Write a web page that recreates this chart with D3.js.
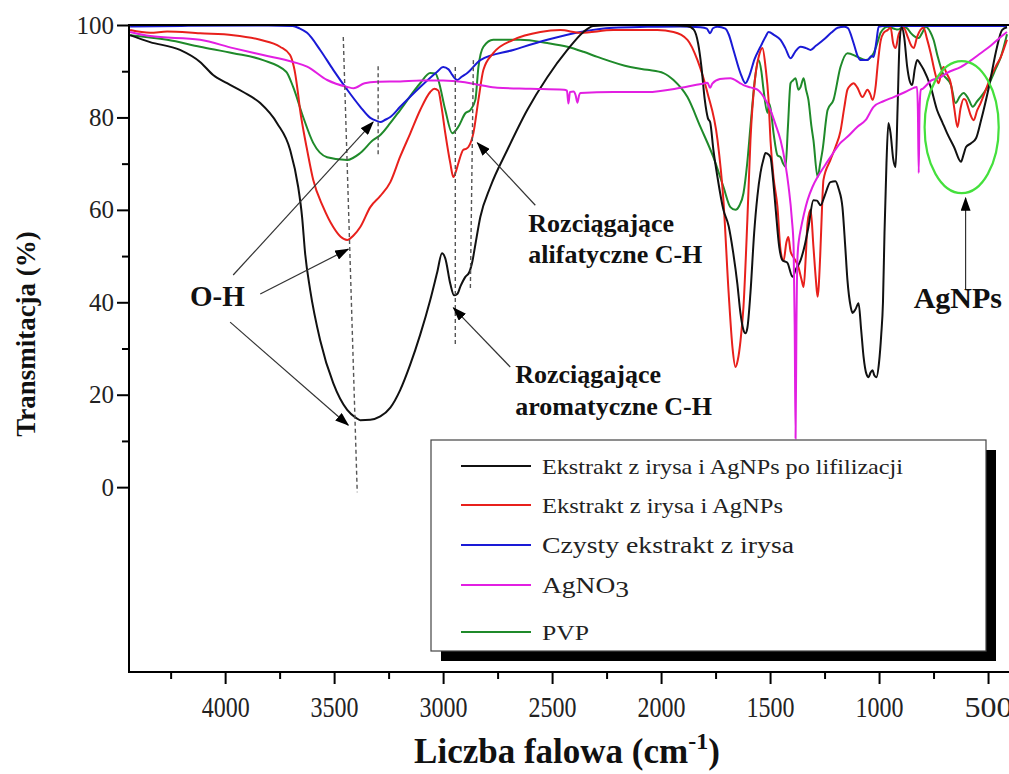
<!DOCTYPE html>
<html>
<head>
<meta charset="utf-8">
<script src="https://cdn.jsdelivr.net/npm/d3@7"></script>
<style>
  body { margin: 0; background: #fff; }
  svg { display: block; }
</style>
</head>
<body>
<svg id="chart" width="1009" height="774"></svg>
<script>
// FTIR spectra: wavenumber (cm-1) vs transmittance (%)
const wnMajor = [4000, 3500, 3000, 2500, 2000, 1500, 1000, 500];
const wnMinor = [4250, 3750, 3250, 2750, 2250, 1750, 1250, 750];
const tMajor = [0, 20, 40, 60, 80, 100];
const tMinor = [10, 30, 50, 70, 90];

const seriesNames = [
  "Ekstrakt z irysa i AgNPs po lifilizacji",
  "Ekstrakt z irysa i AgNPs",
  "Czysty ekstrakt z irysa",
  "AgNO3",
  "PVP"
];
const seriesColors = ["#111111", "#e8201c", "#1a1ad6", "#e21fe2", "#1f8a2a"];

const lyophilized = [
  [4436,97.8],[4344,96.3],[4207,94.6],[4115,92.0],[4055,89.2],[3991,87.4],[3917,85.5],[3839,83.1],[3761,78.7],[3702,73.0],[3665,65.0],[3647,58.5],[3633,50.6],[3610,42.7],[3564,31.8],[3504,22.5],[3440,16.7],[3400,15.0],[3380,14.5],[3334,14.6],[3288,15.3],[3242,17.2],[3197,21.0],[3151,26.5],[3105,33.0],[3059,40.5],[3027,46.5],[3005,50.6],[2990,49.5],[2967,44.0],[2950,41.5],[2935,41.8],[2920,43.5],[2898,45.5],[2880,46.5],[2865,49.0],[2852,52.5],[2829,58.5],[2783,65.0],[2705,73.0],[2614,81.6],[2522,88.7],[2430,94.6],[2356,98.5],[2310,99.8],[2200,100],[2000,100],[1880,99.8],[1850,99.0],[1830,96.0],[1815,91.0],[1800,84.0],[1785,79.8],[1775,79.0],[1760,73.0],[1741,67.0],[1714,60.0],[1690,56.5],[1670,51.0],[1650,44.0],[1636,37.7],[1622,34.0],[1613,33.3],[1604,34.5],[1590,42.0],[1573,55.0],[1558,63.0],[1544,68.0],[1530,71.0],[1521,72.3],[1507,72.0],[1498,71.4],[1485,66.0],[1475,60.6],[1458,52.0],[1443,49.1],[1430,48.8],[1420,48.5],[1397,45.5],[1383,47.0],[1360,49.1],[1340,52.5],[1324,56.3],[1301,62.1],[1285,62.0],[1268,61.0],[1250,63.0],[1223,66.0],[1200,66.2],[1185,64.5],[1168,60.6],[1155,52.0],[1145,44.8],[1130,39.0],[1122,37.7],[1108,38.5],[1094,39.8],[1082,34.0],[1071,28.2],[1058,24.5],[1048,23.8],[1039,24.8],[1030,25.3],[1022,24.2],[1012,23.8],[1000,27.0],[990,33.0],[982,40.0],[975,55.0],[966,70.0],[957,78.8],[947,76.5],[935,71.0],[924,69.3],[915,82.0],[906,96.0],[896,99.5],[885,97.5],[871,91.0],[860,88.0],[848,87.0],[836,90.5],[825,92.4],[810,91.5],[795,90.3],[763,86.6],[734,81.6],[710,79.0],[688,76.6],[656,73.6],[624,70.4],[612,72.0],[601,73.6],[578,74.4],[555,75.5],[532,79.4],[496,86.6],[459,95.2],[436,98.9],[413,99.5]
];

const extractAgNPs = [
  [4436,98.9],[4344,98.3],[4266,98.6],[4115,98.2],[3963,97.8],[3839,96.8],[3748,95.3],[3702,93.5],[3685,91.0],[3679,89.6],[3665,85.0],[3656,81.6],[3640,77.0],[3624,73.0],[3596,66.5],[3550,60.6],[3504,56.3],[3470,54.2],[3440,53.5],[3410,54.5],[3380,56.3],[3334,60.6],[3288,63.0],[3242,66.0],[3197,71.5],[3151,76.5],[3105,81.6],[3059,85.5],[3040,86.2],[3022,85.8],[3008,82.5],[2990,76.6],[2967,70.1],[2953,67.1],[2940,68.5],[2930,70.1],[2907,73.0],[2895,73.2],[2884,73.6],[2861,76.6],[2838,83.8],[2815,90.3],[2770,93.9],[2678,96.8],[2554,98.5],[2462,98.9],[2370,98.3],[2219,98.9],[2017,98.9],[1943,98.5],[1879,96.8],[1833,92.4],[1787,85.3],[1741,75.1],[1714,62.1],[1690,42.0],[1672,30.0],[1659,26.0],[1648,27.5],[1636,31.5],[1622,39.0],[1604,58.0],[1590,75.0],[1570,88.0],[1550,93.5],[1535,95.0],[1521,91.0],[1507,83.8],[1498,75.0],[1484,67.0],[1466,60.6],[1452,51.3],[1438,49.0],[1425,53.0],[1416,54.1],[1406,51.0],[1393,49.8],[1370,47.6],[1356,45.0],[1346,43.3],[1336,50.0],[1328,57.2],[1314,60.0],[1301,52.0],[1290,45.0],[1282,41.2],[1270,50.0],[1262,60.0],[1255,66.5],[1223,70.8],[1200,73.6],[1177,77.0],[1160,82.0],[1145,86.0],[1130,87.0],[1117,87.4],[1100,86.5],[1076,84.4],[1053,86.0],[1040,85.0],[1030,83.8],[1015,87.0],[1007,91.0],[993,96.5],[979,98.3],[961,98.9],[947,99.4],[935,96.0],[924,95.0],[910,98.0],[887,99.4],[869,97.5],[852,95.5],[841,95.0],[825,97.5],[796,99.4],[780,97.0],[763,93.9],[745,90.0],[727,87.4],[715,89.5],[704,90.9],[690,89.5],[671,87.4],[655,82.0],[640,77.9],[626,82.0],[612,84.0],[603,83.8],[590,82.0],[580,80.5],[566,79.4],[550,81.5],[534,83.1],[510,86.0],[488,88.7],[465,91.0],[442,93.0],[413,96.8]
];

const pureExtract = [
  [4436,99.7],[4200,99.8],[3800,99.9],[3690,99.8],[3660,99.3],[3624,98.3],[3564,94.6],[3504,90.3],[3440,86.0],[3380,82.3],[3334,79.9],[3302,79.2],[3288,79.0],[3265,79.5],[3242,80.1],[3197,82.3],[3105,86.6],[3027,89.9],[3000,90.9],[2975,90.4],[2958,89.2],[2935,88.1],[2915,88.8],[2889,89.6],[2829,92.4],[2678,94.6],[2522,96.8],[2370,98.5],[2219,99.4],[2063,99.6],[1911,99.7],[1819,99.5],[1790,99.2],[1775,98.2],[1762,99.3],[1741,99.6],[1705,99.2],[1690,98.0],[1668,94.6],[1636,89.6],[1613,87.4],[1595,89.0],[1572,92.5],[1544,95.3],[1520,97.5],[1507,98.5],[1480,97.8],[1452,96.8],[1430,95.0],[1406,92.8],[1385,94.2],[1360,95.3],[1335,95.0],[1314,94.6],[1290,95.5],[1255,96.8],[1220,98.3],[1190,99.4],[1160,99.6],[1144,99.4],[1117,96.1],[1100,93.5],[1085,92.4],[1053,92.4],[1035,93.3],[1025,93.1],[1012,96.5],[1002,99.6],[980,99.8],[800,99.8],[600,99.8],[413,99.8]
];

const silverNitrate = [
  [4436,98.5],[4344,97.6],[4115,96.8],[3963,95.0],[3826,93.5],[3688,92.0],[3624,91.0],[3532,88.1],[3440,86.6],[3410,86.3],[3360,87.4],[3302,87.7],[3197,87.8],[3100,88.0],[3000,88.0],[2900,87.6],[2829,87.0],[2751,86.4],[2600,86.2],[2445,86.0],[2432,85.8],[2425,83.0],[2418,85.5],[2402,85.6],[2392,84.8],[2384,83.2],[2376,84.8],[2370,85.3],[2219,85.5],[2063,85.5],[1911,86.4],[1800,87.4],[1787,87.5],[1775,86.4],[1765,87.3],[1730,88.3],[1682,88.5],[1640,87.5],[1622,87.0],[1590,86.5],[1558,86.0],[1530,84.5],[1498,81.6],[1475,78.5],[1452,75.1],[1430,70.0],[1415,65.0],[1400,58.0],[1392,52.0],[1387,35.0],[1383,10.5],[1379,35.0],[1374,50.0],[1366,54.0],[1360,55.6],[1345,59.0],[1328,62.1],[1305,65.0],[1282,67.1],[1250,69.5],[1223,71.4],[1177,74.5],[1145,75.8],[1099,78.0],[1062,79.4],[1025,82.3],[980,83.5],[933,84.4],[880,85.5],[841,86.4],[826,86.6],[822,82.0],[818,68.0],[814,82.0],[808,86.0],[800,86.2],[760,88.0],[717,88.7],[690,89.6],[626,90.9],[580,92.3],[534,93.9],[488,95.5],[442,97.4],[413,98.5]
];

const pvp = [
  [4436,97.8],[4266,96.8],[4115,95.3],[3963,93.9],[3826,92.4],[3720,89.9],[3688,86.6],[3642,80.1],[3596,74.5],[3532,71.4],[3440,70.8],[3380,72.3],[3321,75.1],[3288,76.2],[3242,78.8],[3197,81.6],[3105,87.4],[3059,89.6],[3035,89.5],[3022,88.1],[2990,81.6],[2958,76.6],[2930,78.0],[2898,80.9],[2875,81.6],[2852,83.8],[2838,90.9],[2815,95.3],[2770,96.8],[2646,96.8],[2522,96.1],[2430,95.3],[2356,94.2],[2292,93.1],[2141,90.9],[2063,90.3],[1989,89.6],[1943,88.1],[1879,84.4],[1819,77.9],[1760,71.4],[1714,65.0],[1682,60.6],[1659,60.0],[1640,61.0],[1622,63.6],[1605,70.0],[1590,78.0],[1570,88.0],[1553,92.4],[1540,90.0],[1530,86.0],[1512,81.0],[1505,83.0],[1498,82.0],[1484,76.6],[1466,71.8],[1452,71.4],[1440,70.0],[1429,69.3],[1418,78.0],[1406,87.4],[1395,88.0],[1383,88.5],[1370,86.0],[1360,86.6],[1346,88.5],[1335,86.0],[1324,83.8],[1310,78.0],[1301,75.1],[1282,67.1],[1270,70.0],[1259,73.0],[1236,81.6],[1209,83.8],[1177,90.9],[1145,93.9],[1099,93.1],[1062,92.4],[1025,93.9],[1002,97.0],[993,98.3],[961,99.6],[930,99.2],[915,99.0],[887,99.6],[869,99.2],[855,98.3],[836,97.5],[818,97.2],[800,98.5],[786,99.6],[765,98.5],[750,96.8],[730,93.0],[708,89.6],[670,87.0],[649,83.1],[630,84.5],[612,85.3],[590,84.0],[570,82.3],[550,83.5],[534,84.4],[510,86.0],[488,88.0],[465,90.5],[442,93.0],[413,98.0]
];

// Band annotations (data units)
const guideLines = [
  [[3458, 97.4], [3394, -1.1]],
  [[3298, 91.1], [3298, 71.4]],
  [[2944, 90.9], [2944, 30.3]],
  [[2861, 92.4], [2875, 42.7]]
];
const ohArrows = [
  [[3963, 45.9], [3321, 79.0]],
  [[3839, 41.8], [3435, 51.5]],
  [[3977, 35.7], [3435, 13.4]]
];
const chArrows = [
  [[2577, 61.0], [2843, 74.5]],
  [[2692, 26.0], [2953, 38.8]]
];
const agArrow = [[603, 42.7], [603, 62.6]];
const agCircle = { wn: 621, t: 77.9, rwn: 170, rt: 14.3 };

const svg = d3.select("#chart");
const x = d3.scaleLinear().domain([4441, 413]).range([129, 1007]);
const y = d3.scaleLinear().domain([-40, 100]).range([672, 25]);
const serif = "'Liberation Serif', 'Times New Roman', serif";

const defs = svg.append("defs");
defs.append("clipPath").attr("id", "plotClip")
  .append("rect").attr("x", 129).attr("y", 22).attr("width", 880).attr("height", 650);
defs.append("marker").attr("id", "head")
  .attr("markerUnits", "userSpaceOnUse")
  .attr("viewBox", "0 0 14 10").attr("markerWidth", 14).attr("markerHeight", 10)
  .attr("refX", 13).attr("refY", 5).attr("orient", "auto")
  .append("path").attr("d", "M0,0 L14,5 L0,10 Z").attr("fill", "#000");

// spectra
const line = d3.line().x(d => x(d[0])).y(d => y(d[1])).curve(d3.curveMonotoneX);
const spectra = [pvp, pureExtract, extractAgNPs, lyophilized, silverNitrate];
const spectraColor = [seriesColors[4], seriesColors[2], seriesColors[1], seriesColors[0], seriesColors[3]];
const gLines = svg.append("g").attr("clip-path", "url(#plotClip)");
spectra.forEach((s, i) => {
  gLines.append("path").datum(s).attr("d", line)
    .attr("fill", "none").attr("stroke", spectraColor[i])
    .attr("stroke-width", 2).attr("stroke-linejoin", "round");
});

// dashed band guides
svg.append("g").selectAll("line").data(guideLines).join("line")
  .attr("x1", d => x(d[0][0])).attr("y1", d => y(d[0][1]))
  .attr("x2", d => x(d[1][0])).attr("y2", d => y(d[1][1]))
  .attr("stroke", "#555").attr("stroke-width", 1.4).attr("stroke-dasharray", "4,3");

// arrows
const allArrows = ohArrows.concat(chArrows, [agArrow]);
svg.append("g").selectAll("line").data(allArrows).join("line")
  .attr("x1", d => x(d[0][0])).attr("y1", d => y(d[0][1]))
  .attr("x2", d => x(d[1][0])).attr("y2", d => y(d[1][1]))
  .attr("stroke", "#333").attr("stroke-width", 1.2).attr("marker-end", "url(#head)");

// AgNPs ellipse
svg.append("ellipse")
  .attr("cx", x(agCircle.wn)).attr("cy", y(agCircle.t))
  .attr("rx", x(agCircle.wn - agCircle.rwn) - x(agCircle.wn))
  .attr("ry", y(agCircle.t - agCircle.rt) - y(agCircle.t))
  .attr("fill", "none").attr("stroke", "#44e03c").attr("stroke-width", 2.2);

// annotation labels
const labels = [
  { text: "O-H", wn: 4161, t: 39.2, size: 29 },
  { text: "Rozciągające", wn: 2609, t: 55.2, size: 26 },
  { text: "alifatyczne C-H", wn: 2609, t: 48.5, size: 26 },
  { text: "Rozciągające", wn: 2669, t: 22.5, size: 26 },
  { text: "aromatyczne C-H", wn: 2669, t: 15.6, size: 26 },
  { text: "AgNPs", wn: 841, t: 38.8, size: 30 }
];
svg.append("g").selectAll("text").data(labels).join("text")
  .attr("x", d => x(d.wn)).attr("y", d => y(d.t))
  .attr("font-family", serif).attr("font-weight", "bold")
  .attr("font-size", d => d.size).attr("fill", "#111")
  .text(d => d.text);

// axes
const gx = svg.append("g").attr("transform", "translate(0,672)");
gx.call(d3.axisBottom(x).tickValues(wnMajor).tickSize(12).tickPadding(12)
  .tickFormat(d3.format("d")).tickSizeOuter(0));
const gxm = svg.append("g").attr("transform", "translate(0,672)");
gxm.call(d3.axisBottom(x).tickValues(wnMinor).tickSize(7).tickFormat("").tickSizeOuter(0));
const gy = svg.append("g").attr("transform", "translate(129,0)");
gy.call(d3.axisLeft(y).tickValues(tMajor).tickSize(12).tickPadding(3)
  .tickFormat(d3.format("d")).tickSizeOuter(0));
const gym = svg.append("g").attr("transform", "translate(129,0)");
gym.call(d3.axisLeft(y).tickValues(tMinor).tickSize(7).tickFormat("").tickSizeOuter(0));
[gx, gxm, gy, gym].forEach(g => {
  g.select(".domain").remove();
  g.selectAll(".tick line").attr("stroke", "#000").attr("stroke-width", 2);
});
gx.selectAll("text").attr("font-family", serif).attr("font-size", 29)
  .attr("fill", "#222").attr("textLength", 48).attr("lengthAdjust", "spacingAndGlyphs");
gy.selectAll("text").attr("font-family", serif).attr("font-size", 25).attr("fill", "#222");

// frame
svg.append("path")
  .attr("d", "M1009,25 H129 V672 H1009")
  .attr("fill", "none").attr("stroke", "#000").attr("stroke-width", 2);

// axis titles
const xt = svg.append("text").attr("x", 567).attr("y", 763).attr("text-anchor", "middle")
  .attr("font-family", serif).attr("font-size", 35).attr("font-weight", "bold").attr("fill", "#111");
xt.append("tspan").text("Liczba falowa (cm");
xt.append("tspan").attr("dy", -14).attr("font-size", 24).text("-1");
xt.append("tspan").attr("dy", 14).text(")");
svg.append("text")
  .attr("transform", "translate(35,334) rotate(-90)").attr("text-anchor", "middle")
  .attr("font-family", serif).attr("font-size", 27).attr("font-weight", "bold").attr("fill", "#111")
  .text("Transmitacja (%)");

// legend
const lg = svg.append("g");
lg.append("rect").attr("x", 441).attr("y", 450).attr("width", 555).attr("height", 211).attr("fill", "#000");
lg.append("rect").attr("x", 431).attr("y", 440).attr("width", 555).attr("height", 211)
  .attr("fill", "#fff").attr("stroke", "#444").attr("stroke-width", 1.2);
const legendRows = [466, 505, 545, 585, 632];
const legendSizes = [22, 22, 24, 24, 22];
const legendWidths = [361, 241, 252, 87, 47];
seriesNames.forEach((name, i) => {
  lg.append("line").attr("x1", 461).attr("x2", 531)
    .attr("y1", legendRows[i]).attr("y2", legendRows[i])
    .attr("stroke", seriesColors[i]).attr("stroke-width", 2.2);
  const t = lg.append("text").attr("x", 542).attr("y", legendRows[i]).attr("dy", "0.35em")
    .attr("font-family", serif).attr("font-size", legendSizes[i]).attr("fill", "#222")
    .attr("textLength", legendWidths[i]).attr("lengthAdjust", "spacingAndGlyphs");
  if (name === "AgNO3") {
    t.append("tspan").text("AgNO");
    t.append("tspan").attr("dy", 4).text("3");
  } else {
    t.text(name);
  }
});
</script>
</body>
</html>
